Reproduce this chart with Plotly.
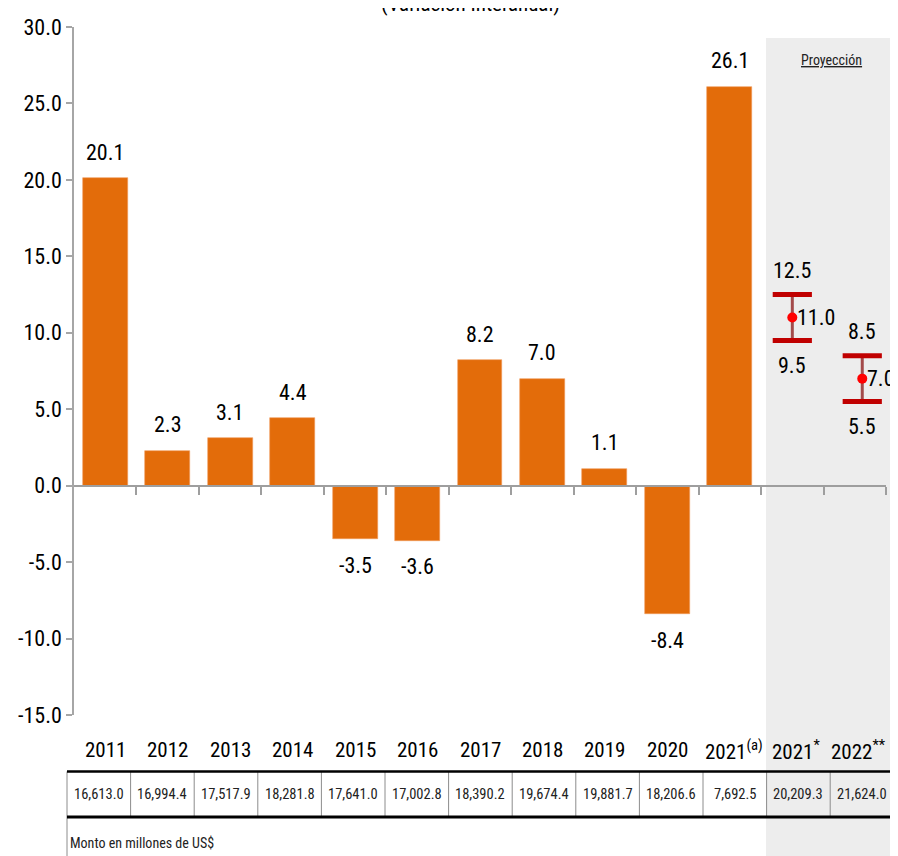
import plotly.graph_objects as go

# ---------------- data ----------------
years = ["2011", "2012", "2013", "2014", "2015", "2016", "2017", "2018", "2019", "2020",
         "2021<sup>(a)</sup>", "2021<sup>*</sup>", "2022<sup>**</sup>"]
growth = [20.1, 2.3, 3.1, 4.4, -3.5, -3.6, 8.2, 7.0, 1.1, -8.4, 26.1]
proj_mid = [11.0, 7.0]
proj_low = [9.5, 5.5]
proj_high = [12.5, 8.5]
amounts = ["16,613.0", "16,994.4", "17,517.9", "18,281.8", "17,641.0", "17,002.8", "18,390.2",
           "19,674.4", "19,881.7", "18,206.6", "7,692.5", "20,209.3", "21,624.0"]
ytick_vals = [-15, -10, -5, 0, 5, 10, 15, 20, 25, 30]
ytick_text = ["-15.0", "-10.0", "-5.0", "0.0", "5.0", "10.0", "15.0", "20.0", "25.0", "30.0"]

# ---------------- layout constants ----------------
OFF = 8                      # page body margin of the html page
W, H = 898 - OFF, 856 - OFF
ML, MR, MT, MB = 66, 12, 19, 141
PW, PH = W - ML - MR, H - MT - MB
FONT = "Roboto Condensed, Arial Narrow, sans-serif"
ORANGE = "#E36C0A"


def pxp(p):  # screen pixel x -> paper
    return (p - OFF - ML) / PW


def pyp(p):  # screen pixel y -> paper
    return (H - MB - (p - OFF)) / PH


n_hist = len(growth)
x_hist = list(range(n_hist))
x_proj = [11, 12.12]

fig = go.Figure()

fig.add_trace(go.Bar(
    x=x_hist, y=growth, width=0.72,
    marker=dict(color=ORANGE, line=dict(color="#F09A5A", width=0.6)),
    hoverinfo="skip", showlegend=False,
))

# projection ranges
for i in range(len(proj_mid)):
    fig.add_trace(go.Scatter(
        x=[x_proj[i], x_proj[i]], y=[proj_low[i], proj_high[i]], mode="lines",
        line=dict(color="#A34A4A", width=3), hoverinfo="skip", showlegend=False,
    ))
    fig.add_trace(go.Scatter(
        x=[x_proj[i], x_proj[i]], y=[proj_low[i], proj_high[i]], mode="markers",
        marker=dict(symbol="line-ew", size=28, line=dict(color="#C00000", width=5)),
        hoverinfo="skip", showlegend=False,
    ))
    fig.add_trace(go.Scatter(
        x=[x_proj[i]], y=[proj_mid[i]], mode="markers",
        marker=dict(color="#FF0000", size=10), hoverinfo="skip", showlegend=False,
    ))

ann = []
# bar value labels
for xi, v in zip(x_hist, growth):
    ann.append(dict(x=xi, y=v, xref="x", yref="y", text=f"{v:.1f}",
                    showarrow=False, xanchor="center", yanchor="middle",
                    yshift=26 if v >= 0 else -26,
                    font=dict(family=FONT, size=22, color="black")))
# projection labels
for i in range(len(proj_mid)):
    ann.append(dict(x=x_proj[i], y=proj_high[i], xref="x", yref="y", text=f"{proj_high[i]:.1f}",
                    showarrow=False, xanchor="center", yanchor="middle", yshift=24,
                    font=dict(family=FONT, size=22, color="black")))
    ann.append(dict(x=x_proj[i], y=proj_low[i], xref="x", yref="y", text=f"{proj_low[i]:.1f}",
                    showarrow=False, xanchor="center", yanchor="middle", yshift=-25,
                    font=dict(family=FONT, size=22, color="black")))
    ann.append(dict(x=x_proj[i], y=proj_mid[i], xref="x", yref="y", text=f"{proj_mid[i]:.1f}",
                    showarrow=False, xanchor="left", yanchor="middle", xshift=3,
                    font=dict(family=FONT, size=22, color="black")))

# year labels
for xi, t in enumerate(years):
    ann.append(dict(x=xi, y=pyp(750), xref="x", yref="paper", text=t, showarrow=False,
                    xanchor="center", yanchor="middle", xshift=4 if "<sup>" in t else 0,
                    font=dict(family=FONT, size=21, color="black")))

# table
tab_left, cell_w = 67, 63.6
tab_top, tab_bot = 771.5, 817
for i, a in enumerate(amounts):
    cx = tab_left + (i + 0.5) * cell_w
    ann.append(dict(x=pxp(cx), y=pyp((tab_top + tab_bot) / 2), xref="paper", yref="paper",
                    text=a, showarrow=False, xanchor="center", yanchor="middle",
                    font=dict(family=FONT, size=14.5, color="#222222")))
ann.append(dict(x=pxp(68), y=pyp(843), xref="paper", yref="paper", text="Monto en millones de US$",
                showarrow=False, xanchor="left", yanchor="middle",
                font=dict(family=FONT, size=14, color="#222222")))
ann.append(dict(x=pxp(831), y=pyp(60), xref="paper", yref="paper", text="<u>Proyección</u>",
                showarrow=False, xanchor="center", yanchor="middle",
                font=dict(family=FONT, size=14, color="#222222")))
ann.append(dict(x=pxp(470), y=pyp(4), xref="paper", yref="paper", text="(Variación Interanual)",
                showarrow=False, xanchor="center", yanchor="middle",
                font=dict(family=FONT, size=21, color="black")))

shapes = []
# projection shading
shapes.append(dict(type="rect", xref="paper", yref="paper", x0=pxp(766), x1=pxp(895),
                   y0=pyp(856), y1=pyp(38), fillcolor="#EDEDED", line=dict(width=0), layer="below"))
# table lines
for i in range(len(amounts) + 1):
    xx = tab_left + i * cell_w
    y_end = 856 if i in (0, len(amounts)) else tab_bot
    shapes.append(dict(type="line", xref="paper", yref="paper", x0=pxp(xx), x1=pxp(xx),
                       y0=pyp(tab_top), y1=pyp(y_end), line=dict(color="#8C8C8C", width=1)))
shapes.append(dict(type="line", xref="paper", yref="paper", x0=pxp(tab_left), x1=pxp(898),
                   y0=pyp(tab_top), y1=pyp(tab_top), line=dict(color="black", width=2.5)))
shapes.append(dict(type="line", xref="paper", yref="paper", x0=pxp(tab_left), x1=pxp(898),
                   y0=pyp(tab_bot), y1=pyp(tab_bot), line=dict(color="black", width=3)))

fig.update_layout(
    width=W, height=H,
    margin=dict(l=ML, r=MR, t=MT, b=MB, pad=0),
    paper_bgcolor="white", plot_bgcolor="rgba(0,0,0,0)",
    showlegend=False, bargap=0,
    annotations=ann, shapes=shapes,
    font=dict(family=FONT, color="black"),
    xaxis=dict(range=[-0.5, 12.5], anchor="free", position=1 / 3, automargin=False,
               showline=True, linecolor="#9E9E9E", linewidth=2,
               ticks="outside", ticklen=8, tickwidth=1.5, tickcolor="#9E9E9E",
               tickvals=[k + 0.5 for k in range(13)], ticktext=[""] * 13,
               showgrid=False, zeroline=False, fixedrange=True),
    yaxis=dict(range=[-15, 30], automargin=False, showline=True, linecolor="#A6A6A6", linewidth=1.5,
               ticks="outside", ticklen=6, tickwidth=1.5, tickcolor="#A6A6A6",
               tickvals=ytick_vals, ticktext=ytick_text,
               tickfont=dict(family=FONT, size=22, color="black"),
               showgrid=False, zeroline=False, fixedrange=True),
)

fig.write_html("out.html")
